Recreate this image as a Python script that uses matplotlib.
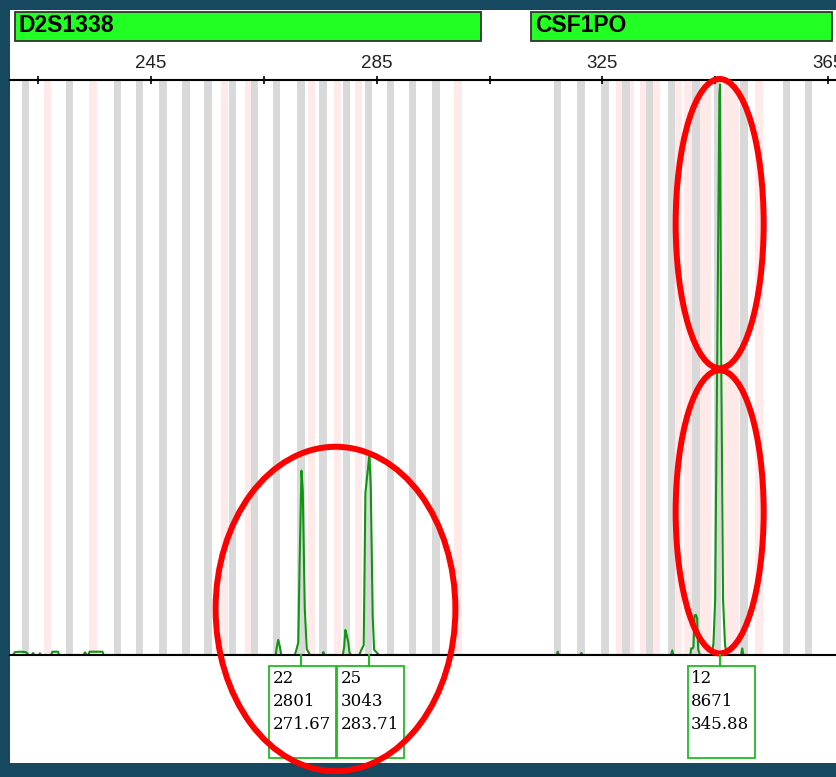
import matplotlib
matplotlib.use('Agg')
import matplotlib.pyplot as plt
from matplotlib.patches import Rectangle, Ellipse
from matplotlib.lines import Line2D
from matplotlib.transforms import IdentityTransform

W, H = 837, 777

# called alleles: name, peak height (RFU), size (bp)
allele_names = ['22', '25', '12']
allele_heights = [2801, 3043, 8671]
allele_sizes = [271.67, 283.71, 345.88]

# marker ranges (bp)
markers = ['D2S1338', 'CSF1PO']
marker_start = [220.9, 312.4]
marker_end = [303.5, 365.7]

# ladder bins (grey) and virtual bins (pink), bp
ladder_bins = [222.7, 230.6, 239.0, 243.0, 247.1, 251.2, 255.1, 259.4, 263.3,
               267.3, 271.6, 275.5, 279.6, 283.6, 287.5, 291.3, 295.5,
               317.1, 321.2, 325.5, 329.2, 333.4, 337.3, 341.6, 345.4, 350.1,
               357.7, 361.6]
virtual_bins = [226.7, 234.7, 258.0, 262.3, 273.4, 278.0, 281.8, 299.4,
                328.0, 330.0, 332.3, 334.6, 338.5, 340.2, 342.6, 343.6,
                347.3, 348.6, 352.8]

# green channel trace (bp, RFU)
trace_size = [220.5, 220.9, 221.8, 222.8, 223.3, 223.9, 224.1, 224.3, 225.1, 225.3, 225.5,
              227.3, 227.5, 228.5, 228.7, 233.0, 233.3, 233.6, 233.9, 234.1, 236.4, 236.6,
              267.1, 267.35, 267.55, 267.8, 268.1,
              270.5, 270.8, 271.1, 271.35, 271.67, 271.9, 272.25, 272.6, 273.2,
              275.4, 275.55, 275.7,
              279.0, 279.25, 279.45, 279.7, 279.95, 280.2, 280.5,
              281.9, 282.3, 282.7, 283.0, 283.71, 283.95, 284.3, 284.55, 285.4,
              316.9, 317.1, 317.3, 321.1, 321.3, 321.5,
              337.2, 337.4, 337.6,
              340.6, 340.75, 341.0, 341.15, 341.35, 341.6, 341.8, 342.0, 342.3,
              344.4, 344.7, 345.0, 345.4, 345.75, 345.88, 346.05, 346.4, 346.75, 347.1,
              349.6, 349.8, 350.0]
trace_rfu = [0, 45, 50, 45, 0, 0, 30, 0, 0, 25, 0,
             0, 50, 50, 0, 0, 40, 0, 0, 50, 50, 0,
             0, 150, 230, 140, 0,
             0, 90, 190, 1450, 2801, 2500, 720, 90, 0,
             0, 45, 0,
             0, 130, 380, 300, 200, 30, 0,
             0, 80, 150, 2460, 3043, 2550, 580, 80, 0,
             0, 50, 0, 0, 30, 0,
             0, 70, 0,
             0, 100, 100, 120, 600, 610, 560, 80, 0,
             0, 180, 840, 4860, 8540, 8671, 4860, 840, 150, 0,
             0, 100, 0]

fig = plt.figure(figsize=(W / 100, H / 100), dpi=100, facecolor='#164960')

# white panel behind everything
fig.patches.append(Rectangle((10 / W, (H - 763) / H), (W - 10) / W, 753 / H,
                             transform=fig.transFigure, facecolor='white',
                             edgecolor='none', zorder=-5))

ax = fig.add_axes([10 / W, (H - 655) / H, (W - 10) / W, (655 - 80) / H])
ax.set_zorder(2)
ax.set_facecolor('none')
ax.set_xlim(220.0, 366.6)
ax.set_ylim(0, 8740)

bin_w = 1.3
for c in virtual_bins:
    ax.axvspan(c - bin_w / 2, c + bin_w / 2, color='#ffe9e9', lw=0, zorder=0.5)
for c in ladder_bins:
    ax.axvspan(c - bin_w / 2, c + bin_w / 2, color='#d9d9d9', lw=0, zorder=0.6)

ax.plot(trace_size, trace_rfu, color='#0f960f', lw=1.5, zorder=2)

for s in ['left', 'right']:
    ax.spines[s].set_visible(False)
for s in ['top', 'bottom']:
    ax.spines[s].set_color('black')
    ax.spines[s].set_linewidth(1.5)
    ax.spines[s].set_zorder(3)

ticks = [225, 245, 265, 285, 305, 325, 345, 365]
ax.xaxis.tick_top()
ax.set_xticks(ticks)
ax.set_xticklabels([str(t) if (t - 245) % 40 == 0 else '' for t in ticks],
                   fontfamily='Liberation Sans', fontsize=13.5, color='#222222')
ax.tick_params(axis='x', direction='inout', length=6, width=1.2, pad=3)
ax.set_yticks([])

# marker header bars
for name, a, b in zip(markers, marker_start, marker_end):
    x0 = ax.transData.transform((a, 0))[0]
    x1 = ax.transData.transform((b, 0))[0]
    fig.patches.append(Rectangle((x0, H - 41), x1 - x0, 29, transform=IdentityTransform(),
                                 facecolor='#22ff22', edgecolor='#333333', lw=1.3))
    fig.text((x0 + 3.5) / W, (H - 32) / H, name, fontfamily='Liberation Sans',
             fontweight='bold', fontsize=16.5, va='baseline', ha='left', color='black')

# allele label boxes
for name, hgt, size in zip(allele_names, allele_heights, allele_sizes):
    px = ax.transData.transform((size, 0))[0]
    fig.lines.append(Line2D([px, px], [H - 655, H - 666], transform=IdentityTransform(),
                            color='#22bb22', lw=1.5))
    left = px - 32
    fig.patches.append(Rectangle((left, H - 758), 67, 92, transform=IdentityTransform(),
                                 facecolor='none', edgecolor='#22bb22', lw=1.3))
    for i, t in enumerate([name, str(hgt), f'{size:.2f}']):
        fig.text((left + 3) / W, (H - 670 - 23 * i) / H, t, fontfamily='DejaVu Serif',
                 fontsize=12, va='top', ha='left', color='black')

# highlight rings
rings = [((277.7, 700), 42.5, 4930), ((345.8, 6557), 15.6, 4397), ((345.8, 2176), 15.6, 4305)]
for (cx, cy), w, h in rings:
    ax.add_patch(Ellipse((cx, cy), w, h, fill=False, edgecolor='#ff0000', lw=4.3,
                         clip_on=False, zorder=5))

fig.savefig('out.png', dpi=100, facecolor=fig.get_facecolor())
